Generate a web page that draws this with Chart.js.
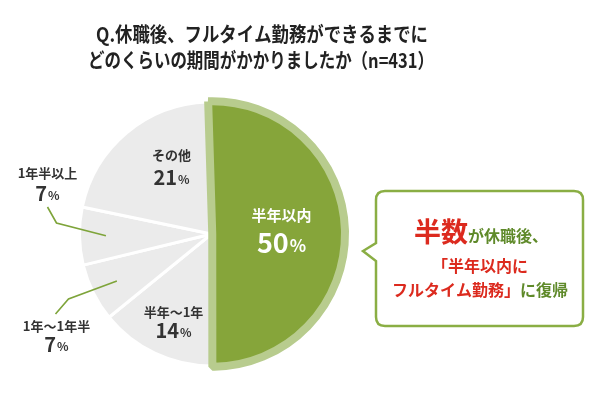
<!DOCTYPE html>
<html>
<head>
<meta charset="utf-8">
<script src="https://cdn.jsdelivr.net/npm/chart.js@4/dist/chart.umd.min.js"></script>
<style>
  html, body { margin: 0; padding: 0; background: #fff; }
  #wrap { width: 600px; height: 400px; }
</style>
</head>
<body>
<div id="wrap"><canvas id="myChart" width="600" height="400"></canvas></div>
<script>
// slices are listed clockwise starting at 6 o'clock
var categories = ['半年～1年', '1年～1年半', '1年半以上', 'その他', '半年以内'];
var shares = [14, 7, 7, 21, 50];
var titleLines = ['Q.休職後、フルタイム勤務ができるまでに', 'どのくらいの期間がかかりましたか（n=431）'];

var FONT = '"Noto Sans CJK JP", "Noto Sans", sans-serif';
var GREEN = '#86a53a';
var GREEN_LIGHT = '#b8cc8e';
var GRAY = '#ebebeb';
var RED = '#dc2a1e';
var TEXT_GREEN = '#5f8a2a';

// label placement relative to the pie centre
var labelLayout = [
  { dx: -38, ly: 78, vy: 96, color: '#333', size: 13, vsize: 20 },
  { dx: -155, ly: 92, vy: 110, color: '#333', size: 13, vsize: 20,
    leader: [[-143, 65], [-156, 80]] },
  { dx: -164, ly: -61, vy: -41, color: '#333', size: 13, vsize: 20,
    leader: [[-155, -11], [-164, -27]] },
  { dx: -40, ly: -79, vy: -57, color: '#333', size: 13, vsize: 20 },
  { dx: 70, ly: -19, vy: 9, color: '#fff', size: 15, vsize: 27 }
];

function drawValue(ctx, x, y, num, size, color) {
  ctx.fillStyle = color;
  ctx.textBaseline = 'middle';
  ctx.font = 'bold ' + size + 'px ' + FONT;
  var w1 = ctx.measureText(num).width;
  var psize = Math.round(size * 0.62);
  ctx.font = 'bold ' + psize + 'px ' + FONT;
  var w2 = ctx.measureText('%').width;
  var left = x - (w1 + w2 + 1) / 2;
  ctx.textAlign = 'left';
  ctx.font = 'bold ' + size + 'px ' + FONT;
  ctx.fillText(num, left, y);
  ctx.font = 'bold ' + psize + 'px ' + FONT;
  ctx.fillText('%', left + w1 + 1, y + size * 0.1);
}

var annotations = {
  id: 'annotations',
  afterDatasetsDraw: function(chart) {
    var ctx = chart.ctx;
    var arcs = chart.getDatasetMeta(0).data;
    var cx = arcs[0].x, cy = arcs[0].y;
    ctx.save();

    // title
    ctx.fillStyle = '#222';
    ctx.textAlign = 'center';
    ctx.textBaseline = 'middle';
    ctx.font = 'bold 20px ' + FONT;
    ctx.fillText(titleLines[0], 262, 34, 332);
    ctx.fillText(titleLines[1], 261, 60, 346);

    // slice labels
    arcs.forEach(function(arc, i) {
      var L = labelLayout[i];
      if (L.leader) {
        var mid = (arc.startAngle + arc.endAngle) / 2;
        var r = arc.outerRadius * 0.8;
        ctx.strokeStyle = '#7ea43a';
        ctx.lineWidth = 1.6;
        ctx.beginPath();
        ctx.moveTo(cx + Math.cos(mid) * r, cy + Math.sin(mid) * r);
        ctx.lineTo(cx + L.leader[0][0], cy + L.leader[0][1]);
        ctx.lineTo(cx + L.leader[1][0], cy + L.leader[1][1]);
        ctx.stroke();
      }
      ctx.fillStyle = L.color;
      ctx.textAlign = 'center';
      ctx.textBaseline = 'middle';
      ctx.font = 'bold ' + L.size + 'px ' + FONT;
      ctx.fillText(chart.data.labels[i], cx + L.dx, cy + L.ly);
      drawValue(ctx, cx + L.dx, cy + L.vy, String(shares[i]), L.vsize, L.color);
    });

    // callout box
    var bx = 376, by = 191, bw = 207, bh = 135, rad = 9;
    ctx.beginPath();
    ctx.moveTo(bx + rad, by);
    ctx.lineTo(bx + bw - rad, by);
    ctx.quadraticCurveTo(bx + bw, by, bx + bw, by + rad);
    ctx.lineTo(bx + bw, by + bh - rad);
    ctx.quadraticCurveTo(bx + bw, by + bh, bx + bw - rad, by + bh);
    ctx.lineTo(bx + rad, by + bh);
    ctx.quadraticCurveTo(bx, by + bh, bx, by + bh - rad);
    ctx.lineTo(bx, 261);
    ctx.lineTo(363, 251);
    ctx.lineTo(bx, 243);
    ctx.lineTo(bx, by + rad);
    ctx.quadraticCurveTo(bx, by, bx + rad, by);
    ctx.closePath();
    ctx.fillStyle = '#fff';
    ctx.fill();
    ctx.strokeStyle = '#8aae44';
    ctx.lineWidth = 2.5;
    ctx.stroke();

    function runs(parts, centerX, y) {
      var total = 0;
      parts.forEach(function(p) {
        ctx.font = 'bold ' + p[2] + 'px ' + FONT;
        p.w = ctx.measureText(p[0]).width;
        total += p.w;
      });
      var x = centerX - total / 2;
      ctx.textAlign = 'left';
      ctx.textBaseline = 'alphabetic';
      parts.forEach(function(p) {
        ctx.font = 'bold ' + p[2] + 'px ' + FONT;
        ctx.fillStyle = p[1];
        ctx.fillText(p[0], x, y);
        x += p.w;
      });
    }
    runs([['半数', RED, 27], ['が休職後、', TEXT_GREEN, 16]], 481, 242);
    runs([['「半年以内に', RED, 16]], 480, 272);
    runs([['フルタイム勤務」', RED, 16], ['に復帰', TEXT_GREEN, 16]], 480, 296);

    ctx.restore();
  }
};

new Chart(document.getElementById('myChart'), {
  type: 'pie',
  data: {
    labels: categories,
    datasets: [{
      data: shares,
      backgroundColor: [GRAY, GRAY, GRAY, GRAY, GREEN],
      borderColor: ['#fff', '#fff', '#fff', '#fff', GREEN_LIGHT],
      borderWidth: [3, 3, 3, 3, 8],
      borderAlign: 'center',
      offset: [0, 0, 0, 0, 3]
    }]
  },
  options: {
    responsive: false,
    animation: false,
    events: [],
    rotation: 180,
    radius: 132,
    layout: { padding: { left: 0, right: 177, top: 90, bottom: 22 } },
    plugins: {
      legend: { display: false },
      tooltip: { enabled: false },
      title: { display: false }
    }
  },
  plugins: [annotations]
});
</script>
</body>
</html>
